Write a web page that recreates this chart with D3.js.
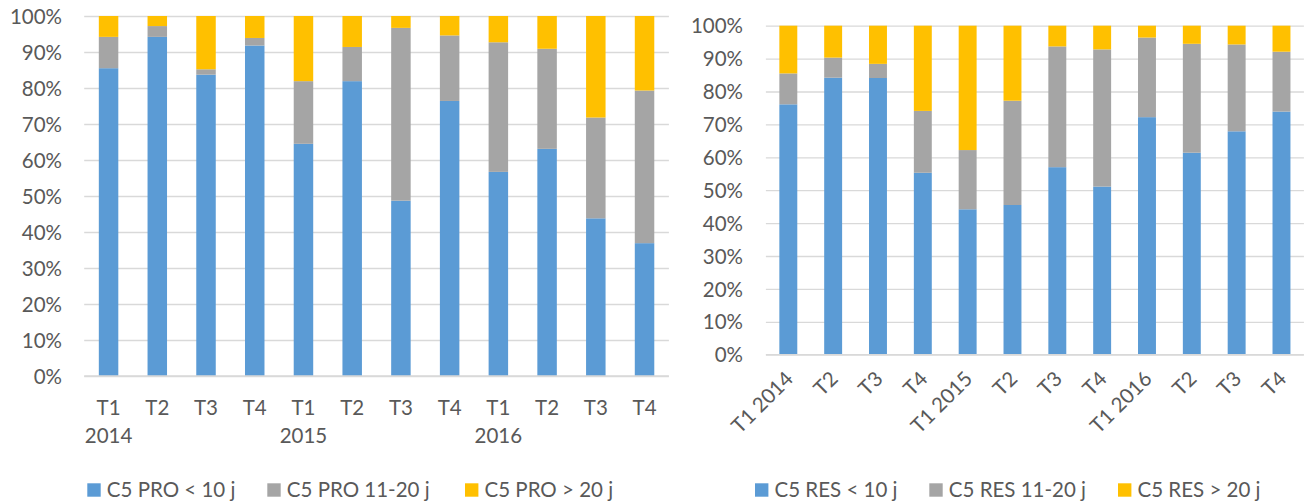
<!DOCTYPE html>
<html>
<head>
<meta charset="utf-8">
<script src="https://cdn.jsdelivr.net/npm/d3@7"></script>
<style>
  html, body { margin: 0; padding: 0; background: #fff; }
  svg { display: block; }
  text { font-family: Lato, "Open Sans", sans-serif; font-size: 20.5px; fill: #595959; }
</style>
</head>
<body>
<svg id="chart" width="1307" height="503"></svg>
<script>
// Quarter labels and years (shared by both panels)
const quarters = ["T1", "T2", "T3", "T4", "T1", "T2", "T3", "T4", "T1", "T2", "T3", "T4"];
const years = ["2014", "", "", "", "2015", "", "", "", "2016", "", "", ""];
const yTicks = [0, 0.1, 0.2, 0.3, 0.4, 0.5, 0.6, 0.7, 0.8, 0.9, 1.0];

// C5 PRO: share of cases by processing delay (%)
const proUnder10 = [85.5, 94.2, 83.7, 91.8, 64.5, 81.9, 48.7, 76.4, 56.7, 63.1, 43.8, 36.9];
const pro11to20  = [ 8.7,  3.0,  1.5,  2.1, 17.4,  9.5, 48.0, 18.2, 36.0, 27.8, 28.0, 42.4];
const proOver20  = [ 5.8,  2.8, 14.8,  6.1, 18.1,  8.6,  3.3,  5.4,  7.3,  9.1, 28.2, 20.7];
const proSeries  = ["C5 PRO < 10 j", "C5 PRO 11-20 j", "C5 PRO > 20 j"];

// C5 RES: share of cases by processing delay (%)
const resUnder10 = [76.1, 84.2, 84.1, 55.3, 44.2, 45.5, 57.0, 51.1, 72.2, 61.4, 67.9, 73.9];
const res11to20  = [ 9.4,  6.1,  4.3, 18.8, 18.0, 31.7, 36.7, 41.7, 24.2, 33.1, 26.4, 18.2];
const resOver20  = [14.5,  9.7, 11.6, 25.9, 37.8, 22.8,  6.3,  7.2,  3.6,  5.5,  5.7,  7.9];
const resSeries  = ["C5 RES < 10 j", "C5 RES 11-20 j", "C5 RES > 20 j"];

const colors = ["#5B9BD5", "#A5A5A5", "#FFC000"];
const gridColor = "#D9D9D9";

const svg = d3.select("#chart");

function buildRows(a, b, c) {
  return a.map((v, i) => ({ i, s0: v, s1: b[i], s2: c[i] }));
}

function drawPanel(opts) {
  const rows = buildRows(...opts.values);
  const stack = d3.stack().keys(["s0", "s1", "s2"]).offset(d3.stackOffsetExpand);
  const layers = stack(rows);

  const x = d3.scaleBand()
    .domain(rows.map(r => r.i))
    .range(opts.xRange)
    .paddingInner(0.6)
    .paddingOuter(0.3);
  const y = d3.scaleLinear().domain([0, 1]).range(opts.yRange);

  const g = svg.append("g");

  // horizontal gridlines
  const yAxis = d3.axisLeft(y).tickValues(yTicks).tickFormat(d3.format(".0%"))
    .tickSize(-(opts.xRange[1] - opts.xRange[0])).tickPadding(0);
  const ya = g.append("g")
    .attr("transform", `translate(${opts.xRange[0]},0)`)
    .call(yAxis);
  ya.select(".domain").remove();
  ya.selectAll(".tick line").attr("stroke", gridColor).attr("stroke-width", 1.3);
  ya.selectAll(".tick text")
    .attr("x", opts.yLabelX - opts.xRange[0])
    .attr("dy", "0.35em")
    .attr("text-anchor", "end")
    .attr("font-size", null).attr("font-family", null)
    .style("fill", "#595959");

  // stacked bars
  g.append("g").selectAll("g")
    .data(layers)
    .join("g")
    .attr("fill", (d, k) => colors[k])
    .selectAll("rect")
    .data(d => d)
    .join("rect")
    .attr("x", d => x(d.data.i))
    .attr("width", x.bandwidth())
    .attr("y", d => y(d[1]))
    .attr("height", d => y(d[0]) - y(d[1]));

  // category axis
  const xa = g.append("g")
    .attr("transform", `translate(0,${opts.yRange[0]})`)
    .call(d3.axisBottom(x).tickSize(0).tickFormat(() => ""));
  xa.select(".domain").attr("stroke", gridColor).attr("stroke-width", 1.3)
    .attr("d", `M${opts.xRange[0]},0H${opts.xRange[1]}`);

  opts.labels(g, x, rows);

  // legend
  const lg = g.append("g");
  opts.series.forEach((name, k) => {
    const lx = opts.legendX[k];
    lg.append("rect")
      .attr("x", lx).attr("y", opts.legendY - 13.4)
      .attr("width", 13.4).attr("height", 13.4)
      .attr("fill", colors[k]);
    lg.append("text")
      .attr("x", lx + 19.5).attr("y", opts.legendY)
      .text(name);
  });
}

// Left panel: two-level category labels (quarter / year)
drawPanel({
  values: [proUnder10, pro11to20, proOver20],
  series: proSeries,
  xRange: [84.2, 668.9],
  yRange: [376, 16],
  yLabelX: 62,
  legendX: [87.3, 267.3, 465],
  legendY: 496.7,
  labels: (g, x, rows) => {
    const lab = g.append("g");
    lab.selectAll("text.q").data(rows).join("text")
      .attr("class", "q")
      .attr("x", d => x(d.i) + x.bandwidth() / 2)
      .attr("y", 415)
      .attr("text-anchor", "middle")
      .text(d => quarters[d.i]);
    lab.selectAll("text.yr").data(rows.filter(d => years[d.i])).join("text")
      .attr("class", "yr")
      .attr("x", d => x(d.i) + x.bandwidth() / 2)
      .attr("y", 443)
      .attr("text-anchor", "middle")
      .text(d => years[d.i]);
  }
});

// Right panel: rotated single-line labels
drawPanel({
  values: [resUnder10, res11to20, resOver20],
  series: resSeries,
  xRange: [765.9, 1303.9],
  yRange: [354.7, 25.7],
  yLabelX: 743,
  legendX: [755, 929.3, 1118],
  legendY: 496.7,
  labels: (g, x, rows) => {
    g.append("g").selectAll("text").data(rows).join("text")
      .attr("transform", d => `translate(${x(d.i) + x.bandwidth() / 2 + 1},375) rotate(-45)`)
      .attr("dy", "0.35em")
      .attr("text-anchor", "end")
      .text(d => years[d.i] ? `${quarters[d.i]} ${years[d.i]}` : quarters[d.i]);
  }
});
</script>
</body>
</html>
